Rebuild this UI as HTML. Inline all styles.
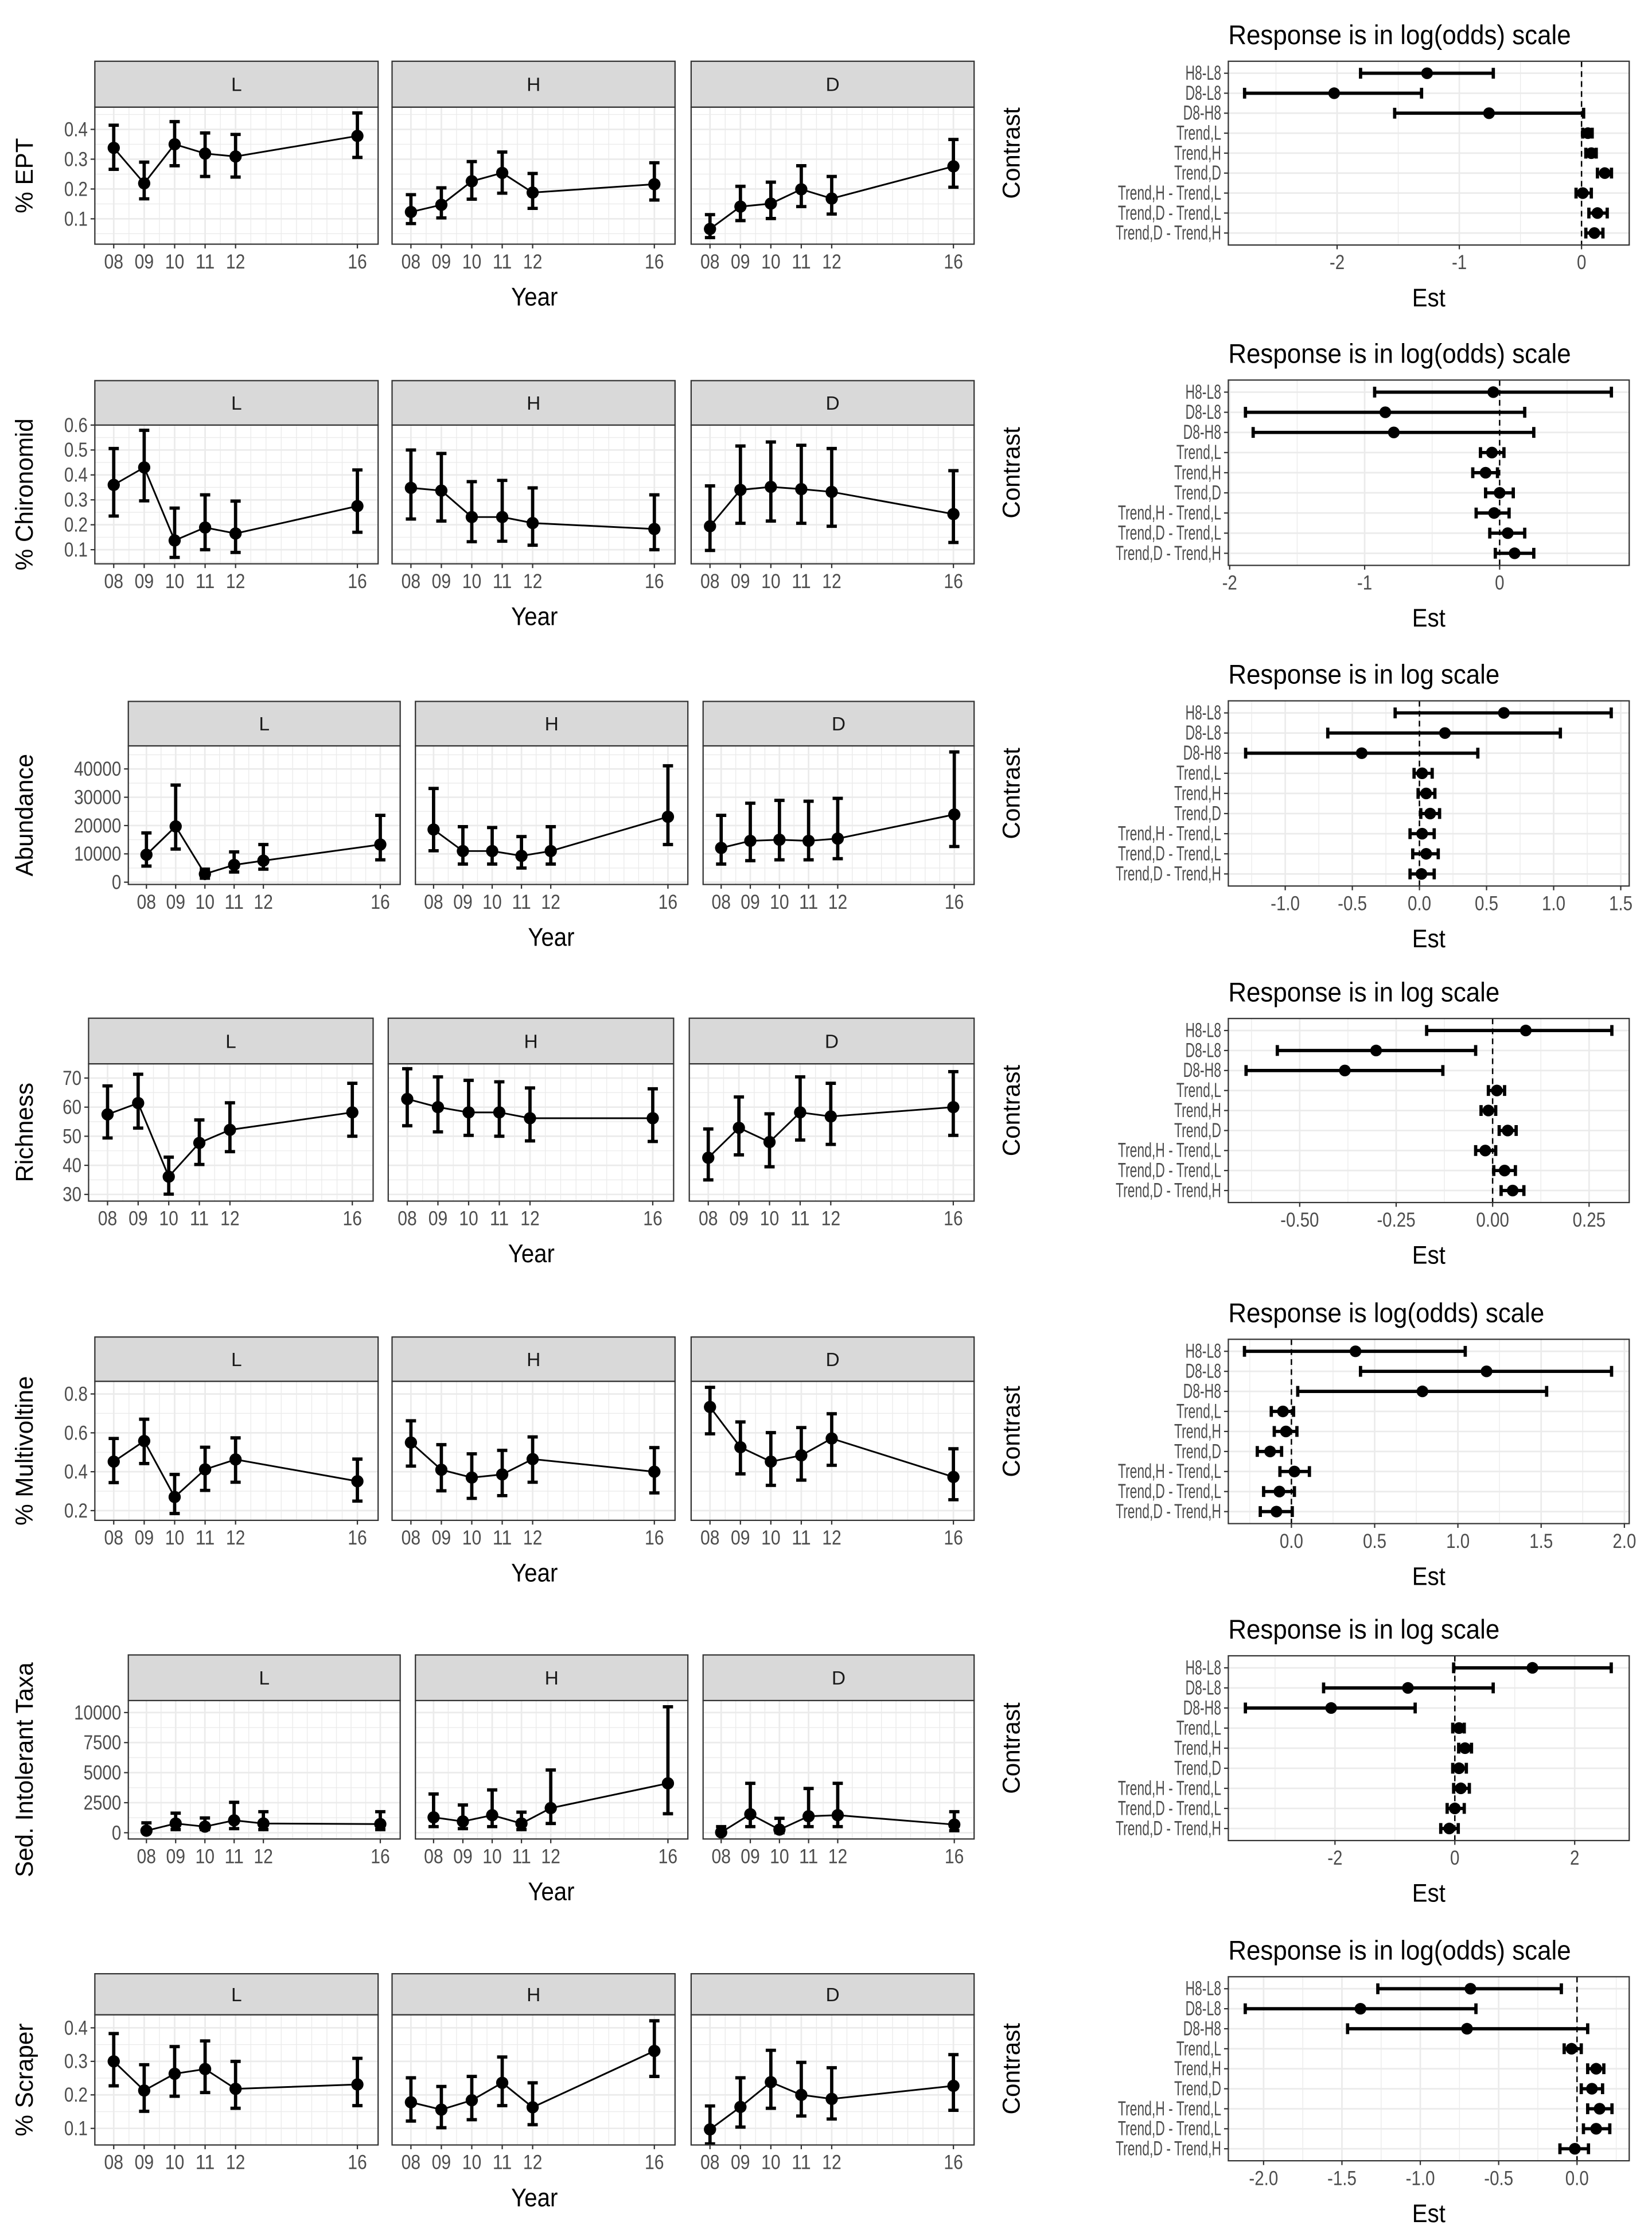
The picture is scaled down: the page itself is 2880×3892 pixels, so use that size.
<!DOCTYPE html>
<html><head><meta charset="utf-8">
<style>
html,body{margin:0;padding:0;background:#fff;}
svg{display:block;}
text{font-family:"Liberation Sans",Arial,sans-serif;}
</style></head>
<body>
<svg id="fig" xmlns="http://www.w3.org/2000/svg" width="2880" height="3892" viewBox="0 0 1160 1567.6"></svg>
<script>
// ---------- DATA ----------
const years = [2008, 2009, 2010, 2011, 2012, 2016];
const yearLabels = ['08', '09', '10', '11', '12', '16'];
const sites = ['L', 'H', 'D'];

const eptEst = [[0.338,0.219,0.35,0.319,0.309,0.378],[0.123,0.147,0.226,0.254,0.188,0.216],[0.066,0.141,0.151,0.199,0.168,0.276]];
const eptLo  = [[0.266,0.167,0.278,0.242,0.24,0.306],[0.084,0.103,0.166,0.186,0.135,0.163],[0.037,0.094,0.101,0.141,0.116,0.206]];
const eptHi  = [[0.414,0.29,0.426,0.388,0.383,0.455],[0.181,0.204,0.292,0.324,0.252,0.288],[0.114,0.209,0.223,0.278,0.242,0.366]];

const chiEst = [[0.36,0.43,0.137,0.189,0.165,0.275],[0.348,0.337,0.231,0.231,0.207,0.183],[0.194,0.34,0.352,0.343,0.332,0.243]];
const chiLo  = [[0.235,0.296,0.069,0.1,0.089,0.17],[0.223,0.215,0.132,0.134,0.118,0.1],[0.097,0.206,0.215,0.206,0.194,0.129]];
const chiHi  = [[0.506,0.579,0.267,0.32,0.295,0.42],[0.5,0.486,0.373,0.378,0.348,0.32],[0.356,0.516,0.532,0.519,0.506,0.417]];

const abuEst = [[9700,19700,2900,6100,7600,13300],[18600,11000,11000,9300,11000,23100],[12100,14600,15000,14600,15400,23900]];
const abuLo  = [[5700,11700,1400,3600,4600,7900],[11100,6400,6400,5000,6400,13300],[6400,7600,7900,7900,8300,12600]];
const abuHi  = [[17400,34300,4600,10700,13300,23600],[33100,19600,19300,16100,19600,41100],[23600,27900,28900,28600,29600,46000]];

const ricEst = [[57.5,61.4,36.1,47.7,52.2,58.2],[62.8,60,58.2,58.2,56.2,56.2],[42.6,52.9,48,58.2,56.8,60]];
const ricLo  = [[49.4,52.8,30.1,40.3,44.7,50],[53.6,51.5,50.3,50,48.4,48.2],[35,43.6,39.5,48.7,47.2,50.3]];
const ricHi  = [[67.3,71.3,42.8,55.6,61.5,68.2],[73.2,70.4,69.2,68.7,66.6,66.3],[52.5,63.5,57.7,70.4,68.2,72.2]];

const mulEst = [[0.452,0.558,0.27,0.412,0.463,0.351],[0.55,0.41,0.37,0.386,0.465,0.4],[0.733,0.526,0.452,0.484,0.571,0.373]];
const mulLo  = [[0.344,0.442,0.185,0.304,0.346,0.249],[0.429,0.302,0.263,0.277,0.346,0.291],[0.595,0.389,0.33,0.357,0.433,0.256]];
const mulHi  = [[0.571,0.67,0.386,0.526,0.574,0.465],[0.662,0.539,0.492,0.51,0.579,0.524],[0.834,0.656,0.601,0.627,0.698,0.518]];

const sedEst = [[170,770,510,1030,770,720],[1280,940,1460,770,2050,4110],[30,1540,260,1370,1460,680]];
const sedLo  = [[50,260,260,340,260,260],[510,340,510,260,770,1580],[0,510,0,510,510,170]];
const sedHi  = [[822,1630,1230,2530,1750,1750],[3220,2310,3560,1710,5220,10480],[510,4110,1200,3680,4110,1750]];

const scrEst = [[0.3,0.213,0.263,0.277,0.218,0.231],[0.178,0.156,0.184,0.236,0.163,0.331],[0.097,0.164,0.238,0.2,0.188,0.227]];
const scrLo  = [[0.227,0.151,0.196,0.207,0.16,0.168],[0.122,0.102,0.126,0.168,0.111,0.255],[0.054,0.104,0.16,0.137,0.128,0.154]];
const scrHi  = [[0.383,0.29,0.344,0.361,0.3,0.309],[0.251,0.225,0.255,0.313,0.236,0.421],[0.167,0.251,0.333,0.297,0.281,0.32]];

const yTickLabels = [
  ['0.1','0.2','0.3','0.4'],
  ['0.1','0.2','0.3','0.4','0.5','0.6'],
  ['0','10000','20000','30000','40000'],
  ['30','40','50','60','70'],
  ['0.2','0.4','0.6','0.8'],
  ['0','2500','5000','7500','10000'],
  ['0.1','0.2','0.3','0.4']
];
const yTitles = ['% EPT','% Chironomid','Abundance','Richness','% Multivoltine','Sed. Intolerant Taxa','% Scraper'];

const contrasts = ['H8-L8','D8-L8','D8-H8','Trend,L','Trend,H','Trend,D','Trend,H - Trend,L','Trend,D - Trend,L','Trend,D - Trend,H'];
const conTitles = ['Response is in log(odds) scale','Response is in log(odds) scale','Response is in log scale','Response is in log scale','Response is log(odds) scale','Response is in log scale','Response is in log(odds) scale'];

const c1Est = [-1.264,-2.024,-0.757,0.052,0.08,0.19,0.01,0.13,0.105];
const c1Lo  = [-1.808,-2.757,-1.529,0.01,0.035,0.13,-0.045,0.06,0.035];
const c1Hi  = [-0.722,-1.309,0.017,0.087,0.12,0.245,0.08,0.21,0.175];
const c2Est = [-0.047,-0.847,-0.784,-0.057,-0.104,0,-0.041,0.06,0.111];
const c2Lo  = [-0.926,-1.883,-1.826,-0.142,-0.199,-0.104,-0.174,-0.073,-0.032];
const c2Hi  = [0.828,0.186,0.253,0.032,-0.016,0.101,0.07,0.186,0.253];
const c3Est = [0.629,0.19,-0.43,0.02,0.05,0.08,0.02,0.05,0.015];
const c3Lo  = [-0.181,-0.683,-1.295,-0.04,-0.01,0.01,-0.07,-0.05,-0.07];
const c3Hi  = [1.429,1.05,0.435,0.095,0.115,0.15,0.11,0.14,0.11];
const c4Est = [0.086,-0.302,-0.383,0.011,-0.011,0.039,-0.019,0.031,0.052];
const c4Lo  = [-0.171,-0.558,-0.639,-0.011,-0.03,0.017,-0.044,0.003,0.022];
const c4Hi  = [0.309,-0.044,-0.129,0.031,0.008,0.061,0.008,0.059,0.081];
const c5Est = [0.385,1.172,0.787,-0.051,-0.033,-0.128,0.018,-0.072,-0.09];
const c5Lo  = [-0.282,0.415,0.038,-0.121,-0.103,-0.205,-0.069,-0.167,-0.187];
const c5Hi  = [1.044,1.923,1.533,0.013,0.033,-0.059,0.108,0.018,0.005];
const c6Est = [1.295,-0.783,-2.064,0.07,0.17,0.07,0.1,0,-0.093];
const c6Lo  = [-0.02,-2.19,-3.495,-0.035,0.064,-0.035,-0.02,-0.128,-0.235];
const c6Hi  = [2.61,0.64,-0.662,0.157,0.278,0.192,0.242,0.157,0.057];
const c7Est = [-0.68,-1.382,-0.702,-0.035,0.122,0.095,0.144,0.122,-0.014];
const c7Lo  = [-1.271,-2.117,-1.464,-0.082,0.068,0.027,0.068,0.041,-0.109];
const c7Hi  = [-0.1,-0.645,0.068,0.027,0.171,0.163,0.223,0.209,0.073];

const xTickLabels = [
  ['-2','-1','0'],['-2','-1','0'],['-1.0','-0.5','0.0','0.5','1.0','1.5'],
  ['-0.50','-0.25','0.00','0.25'],['0.0','0.5','1.0','1.5','2.0'],['-2','0','2'],
  ['-2.0','-1.5','-1.0','-0.5','0.0']
];

// ---------- LAYOUT ----------
const NS = 'http://www.w3.org/2000/svg';
const svg = document.getElementById('fig');
const est = [eptEst,chiEst,abuEst,ricEst,mulEst,sedEst,scrEst];
const los = [eptLo,chiLo,abuLo,ricLo,mulLo,sedLo,scrLo];
const his = [eptHi,chiHi,abuHi,ricHi,mulHi,sedHi,scrHi];
const cEst = [c1Est,c2Est,c3Est,c4Est,c5Est,c6Est,c7Est];
const cLo = [c1Lo,c2Lo,c3Lo,c4Lo,c5Lo,c6Lo,c7Lo];
const cHi = [c1Hi,c2Hi,c3Hi,c4Hi,c5Hi,c6Hi,c7Hi];
const slugs = ['ept','chironomid','abundance','richness','multivoltine','sed-intolerant','scraper'];

const P1 = [[66.6,265.5],[275.3,474],[485.3,684]];
const P3 = [[90.1,281],[291.7,483],[493.7,684]];
const P4 = [[62.2,262],[272.6,473],[484,684]];
const L = [
  {s:43, t:75.2, b:171.4, p:P1, yl:[0.015,0.4746]},
  {s:267.2, t:298.4, b:395.8, p:P1, yl:[0.0434,0.6]},
  {s:492.4, t:523.6, b:620.9, p:P3, yl:[-800,48150]},
  {s:714.8, t:746.8, b:843.2, p:P4, yl:[27.7,74.9]},
  {s:938.6, t:969.7, b:1067.3, p:P1, yl:[0.150,0.865]},
  {s:1161.8, t:1193.8, b:1291, p:P3, yl:[-520,11000]},
  {s:1385.6, t:1414.4, b:1505.8, p:P1, yl:[0.0506,0.439]}
];
const R = [
  {t:43, b:172, xl:[-2.89,0.39]},
  {t:266.8, b:396.9, xl:[-2.01,0.96]},
  {t:492, b:622, xl:[-1.424,1.563]},
  {t:715, b:844.2, xl:[-0.685,0.354]},
  {t:940.2, b:1069.6, xl:[-0.379,2.029]},
  {t:1162.4, b:1292.1, xl:[-3.78,2.91]},
  {t:1387.7, b:1516.9, xl:[-2.225,0.333]}
];
const RX0 = 862.5, RX1 = 1144;
const XLIM = [2007.38, 2016.68];

function el(tag, attrs, parent) {
  const e = document.createElementNS(NS, tag);
  for (const k in attrs) e.setAttribute(k, attrs[k]);
  (parent || svg).appendChild(e);
  return e;
}
function txt(str, attrs, parent) { const t = el('text', attrs, parent); t.textContent = str; return t; }
function squeeze(t, f) {
  const w = t.getComputedTextLength();
  if (w > 0) { t.setAttribute('textLength', (w * f).toFixed(2)); t.setAttribute('lengthAdjust', 'spacingAndGlyphs'); }
}

// ---------- LEFT FACET ROWS ----------
L.forEach((row, r) => {
  const g = el('g', {});
  
  
  const yv = v => row.b - (v - row.yl[0]) / (row.yl[1] - row.yl[0]) * (row.b - row.t);
  const tickVals = yTickLabels[r].map(Number);
  const step = tickVals[1] - tickVals[0];
  sites.forEach((site, si) => {
    const [x0, x1] = row.p[si];
    const xv = yr => x0 + (yr - XLIM[0]) / (XLIM[1] - XLIM[0]) * (x1 - x0);
    const pg = el('g', {}, g);
    
    
    el('rect', {x:x0, y:row.t, width:x1-x0, height:row.b-row.t, fill:'#fff'}, pg);
    for (let v = tickVals[0] - step; v <= tickVals[tickVals.length-1] + step; v += step / 2) {
      const y = yv(v);
      if (y <= row.t || y >= row.b) continue;
      const major = Math.abs(((v - tickVals[0]) / step) - Math.round((v - tickVals[0]) / step)) < 1e-6;
      el('line', {x1:x0, x2:x1, y1:y, y2:y, stroke:'#ebebeb', 'stroke-width': major ? 1.1 : 0.55}, pg);
    }
    for (let yr = 2008; yr <= 2016; yr += 0.5) {
      const x = xv(yr);
      el('line', {x1:x, x2:x, y1:row.t, y2:row.b, stroke:'#ebebeb', 'stroke-width': years.includes(yr) ? 1.1 : 0.55}, pg);
    }
    const pts = years.map((yr, i) => xv(yr).toFixed(2) + ',' + yv(est[r][si][i]).toFixed(2)).join(' ');
    const pl = el('polyline', {points:pts, fill:'none', stroke:'#000', 'stroke-width':1.2}, pg);
    
    
    years.forEach((yr, i) => {
      const x = xv(yr), ylo = yv(los[r][si][i]), yhi = yv(his[r][si][i]);
      const eb = el('path', {d:`M${x},${ylo}V${yhi}M${x-3.6},${yhi}H${x+3.6}M${x-3.6},${ylo}H${x+3.6}`, stroke:'#000', 'stroke-width':2.3, fill:'none'}, pg);
      
      
      const c = el('circle', {cx:x, cy:yv(est[r][si][i]), r:4.3, fill:'#000'}, pg);
      
      
    });
    el('rect', {x:x0, y:row.t, width:x1-x0, height:row.b-row.t, fill:'none', stroke:'#333', 'stroke-width':0.9}, pg);
    const st = el('rect', {x:x0, y:row.s, width:x1-x0, height:row.t-row.s, fill:'#d9d9d9', stroke:'#333', 'stroke-width':0.9}, pg);
    
    
    txt(site, {x:(x0+x1)/2, y:(row.s+row.t)/2 + 4.8, 'text-anchor':'middle', 'font-size':13.5, fill:'#1a1a1a'}, pg);
    years.forEach((yr, i) => {
      const x = xv(yr);
      el('line', {x1:x, x2:x, y1:row.b, y2:row.b+3, stroke:'#333', 'stroke-width':0.9}, pg);
      const tl = txt(yearLabels[i], {x:x, y:row.b+17, 'text-anchor':'middle', 'font-size':14, fill:'#4d4d4d', textLength:13.5, lengthAdjust:'spacingAndGlyphs'}, pg);
      
      
    });
    if (si === 0) {
      yTickLabels[r].forEach((lab, k) => {
        const y = yv(tickVals[k]);
        el('line', {x1:x0-3, x2:x0, y1:y, y2:y, stroke:'#333', 'stroke-width':0.9}, pg);
        const tl = txt(lab, {x:x0-5, y:y+4.8, 'text-anchor':'end', 'font-size':14, fill:'#4d4d4d'}, pg);
        
        
        squeeze(tl, 0.85);
      });
    }
  });
  const cy = (row.t + row.b) / 2;
  const yt = txt(yTitles[r], {x:0, y:0, transform:`translate(23,${cy}) rotate(-90)`, 'text-anchor':'middle', 'font-size':17, fill:'#000'}, g);
  
  
  const cxm = (row.p[0][0] + row.p[2][1]) / 2;
  const xt = txt('Year', {x:cxm, y:row.b + 43, 'text-anchor':'middle', 'font-size':18, fill:'#000'}, g);
  
  
  squeeze(xt, 0.9);
});

// ---------- RIGHT CONTRAST PANELS ----------
R.forEach((row, r) => {
  const g = el('g', {});
  
  
  const xv = v => RX0 + (v - row.xl[0]) / (row.xl[1] - row.xl[0]) * (RX1 - RX0);
  const h = row.b - row.t;
  const yc = i => row.t + (0.6 + i) * h / 9.2;
  el('rect', {x:RX0, y:row.t, width:RX1-RX0, height:h, fill:'#fff'}, g);
  const tv = xTickLabels[r].map(Number);
  const step = tv[1] - tv[0];
  for (let v = tv[0] - step; v <= tv[tv.length-1] + step + 1e-9; v += step / 2) {
    const x = xv(v);
    if (x <= RX0 || x >= RX1) continue;
    const major = Math.abs(((v - tv[0]) / step) - Math.round((v - tv[0]) / step)) < 1e-6;
    el('line', {x1:x, x2:x, y1:row.t, y2:row.b, stroke:'#ebebeb', 'stroke-width': major ? 1.1 : 0.55}, g);
  }
  contrasts.forEach((c, i) => {
    el('line', {x1:RX0, x2:RX1, y1:yc(i), y2:yc(i), stroke:'#ebebeb', 'stroke-width':1.1}, g);
  });
  const zl = el('line', {x1:xv(0), x2:xv(0), y1:row.t, y2:row.b, stroke:'#000', 'stroke-width':1, 'stroke-dasharray':'4,3'}, g);
  
  
  contrasts.forEach((c, i) => {
    const y = yc(i), xl = xv(cLo[r][i]), xh = xv(cHi[r][i]);
    const eb = el('path', {d:`M${xl},${y}H${xh}M${xl},${y-3.8}V${y+3.8}M${xh},${y-3.8}V${y+3.8}`, stroke:'#000', 'stroke-width':2.3, fill:'none'}, g);
    
    
    const pt = el('circle', {cx:xv(cEst[r][i]), cy:y, r:4.1, fill:'#000'}, g);
    
    
    el('line', {x1:RX0-3, x2:RX0, y1:y, y2:y, stroke:'#333', 'stroke-width':0.9}, g);
    const cl = txt(c, {x:RX0-5, y:y+4.6, 'text-anchor':'end', 'font-size':14, fill:'#4d4d4d'}, g);
    
    
    squeeze(cl, 0.66);
  });
  el('rect', {x:RX0, y:row.t, width:RX1-RX0, height:h, fill:'none', stroke:'#333', 'stroke-width':0.9}, g);
  xTickLabels[r].forEach((lab, k) => {
    const x = xv(tv[k]);
    el('line', {x1:x, x2:x, y1:row.b, y2:row.b+3, stroke:'#333', 'stroke-width':0.9}, g);
    const tl = txt(lab, {x:x, y:row.b+17, 'text-anchor':'middle', 'font-size':14, fill:'#4d4d4d'}, g);
    
    
    squeeze(tl, 0.85);
  });
  const ti = txt(conTitles[r], {x:RX0, y:row.t - 12, 'font-size':19, fill:'#000'}, g);
  
  
  squeeze(ti, 0.93);
  const xt = txt('Est', {x:(RX0+RX1)/2, y:row.b + 43, 'text-anchor':'middle', 'font-size':18, fill:'#000'}, g);
  
  
  squeeze(xt, 0.9);
  const yt = txt('Contrast', {x:0, y:0, transform:`translate(716,${row.t + h/2}) rotate(-90)`, 'text-anchor':'middle', 'font-size':17, fill:'#000'}, g);
  
  
});
</script>
</body></html>
